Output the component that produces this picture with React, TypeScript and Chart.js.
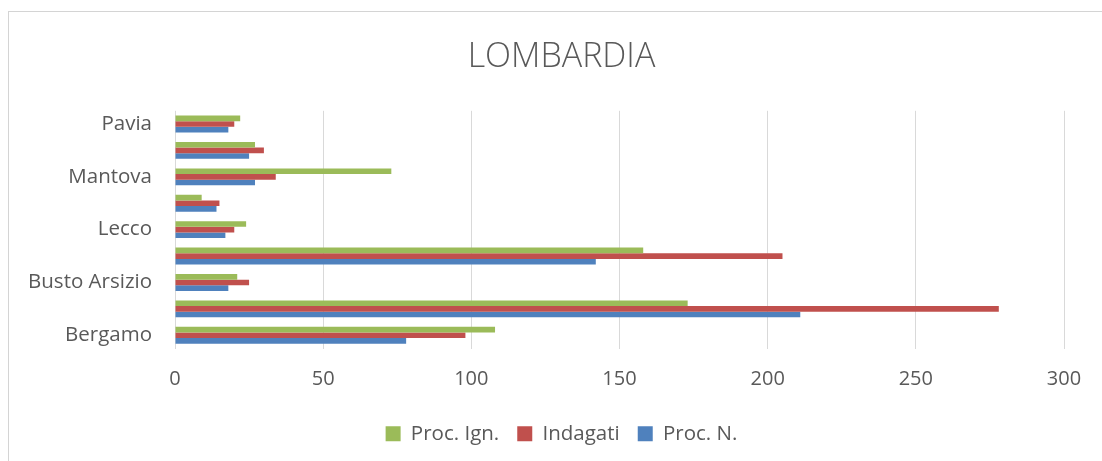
import React, { useEffect, useRef } from 'react';
import { Chart, registerables } from 'chart.js';

Chart.register(...registerables);

const chartTitle = 'LOMBARDIA';
const categories = ['Bergamo', 'Brescia', 'Busto Arsizio', 'Como', 'Lecco', 'Lodi', 'Mantova', 'Monza', 'Pavia'];
const seriesNames = ['Proc. Ign.', 'Indagati', 'Proc. N.'];
const procIgn = [108, 173, 21, 158, 24, 9, 73, 27, 22];
const indagati = [98, 278, 25, 205, 20, 15, 34, 30, 20];
const procN = [78, 211, 18, 142, 17, 14, 27, 25, 18];
const xMin = 0;
const xMax = 300;
const xStep = 50;

const GREEN = '#9BBB59';
const RED = '#C0504D';
const BLUE = '#4F81BD';
const TEXT = '#595959';
const FONT = "'Open Sans', 'Noto Sans', sans-serif";

const CANVAS_W = 1123;
const CANVAS_H = 461;

export default function App() {
  const canvasRef = useRef<HTMLCanvasElement | null>(null);

  useEffect(() => {
    const canvas = canvasRef.current;
    if (!canvas) return;
    const chart = new Chart(canvas, {
      type: 'bar',
      data: {
        labels: categories,
        datasets: [
          { label: seriesNames[0], data: procIgn, backgroundColor: GREEN, borderWidth: 0, xAxisID: 'x', yAxisID: 'y' },
          { label: seriesNames[1], data: indagati, backgroundColor: RED, borderWidth: 0, xAxisID: 'x', yAxisID: 'y' },
          { label: seriesNames[2], data: procN, backgroundColor: BLUE, borderWidth: 0, xAxisID: 'x', yAxisID: 'y' },
        ],
      },
      options: {
        indexAxis: 'y',
        animation: false,
        responsive: false,
        maintainAspectRatio: false,
        layout: { padding: { left: 0, right: 0, top: 0, bottom: 7 } },
        datasets: {
          bar: { categoryPercentage: 0.64, barPercentage: 1 },
        },
        scales: {
          x: {
            type: 'linear',
            position: 'bottom',
            min: xMin,
            max: xMax,
            afterFit: (scale: any) => {
              scale.height = 57;
            },
            ticks: {
              stepSize: xStep,
              padding: 19,
              color: TEXT,
              font: { family: FONT, size: 20 },
            },
            grid: { color: '#D9D9D9', lineWidth: 1, drawTicks: false },
            border: { display: false },
          },
          y: {
            type: 'category',
            position: 'left',
            reverse: true,
            afterFit: (scale: any) => {
              scale.width = 175;
            },
            ticks: {
              padding: 23,
              color: TEXT,
              font: { family: FONT, size: 20.5 },
              autoSkip: false,
              callback: function (this: any, value: any, index: number) {
                return index % 2 === 0 ? categories[index] : '';
              },
            },
            grid: { display: false, drawTicks: false },
            border: { display: false },
          },
          yRight: {
            type: 'category',
            position: 'right',
            reverse: true,
            afterFit: (scale: any) => {
              scale.width = CANVAS_W - 1064;
            },
            ticks: { display: false },
            grid: { display: false, drawTicks: false },
            border: { display: false },
          },
        },
        plugins: {
          title: {
            display: true,
            text: chartTitle,
            color: TEXT,
            font: { family: FONT, size: 34, weight: '300' as any },
            padding: { top: 37, bottom: 33 },
          },
          legend: {
            position: 'bottom',
            labels: {
              color: TEXT,
              font: { family: FONT, size: 20.5 },
              boxWidth: 15,
              boxHeight: 15,
              padding: 18,
            },
          },
          tooltip: { enabled: false },
        },
      },
    });
    return () => chart.destroy();
  }, []);

  return (
    <div
      style={{
        position: 'fixed',
        left: 0,
        top: 0,
        width: 1102,
        height: 461,
        overflow: 'hidden',
        background: '#ffffff',
      }}
    >
      <div
        style={{
          position: 'absolute',
          left: 8,
          top: 11,
          width: 1200,
          height: 600,
          borderLeft: '1px solid #D4D4D4',
          borderTop: '1px solid #D4D4D4',
        }}
      />
      <canvas
        ref={canvasRef}
        width={CANVAS_W}
        height={CANVAS_H}
        style={{ position: 'absolute', left: 0, top: 0, width: CANVAS_W, height: CANVAS_H }}
      />
    </div>
  );
}
